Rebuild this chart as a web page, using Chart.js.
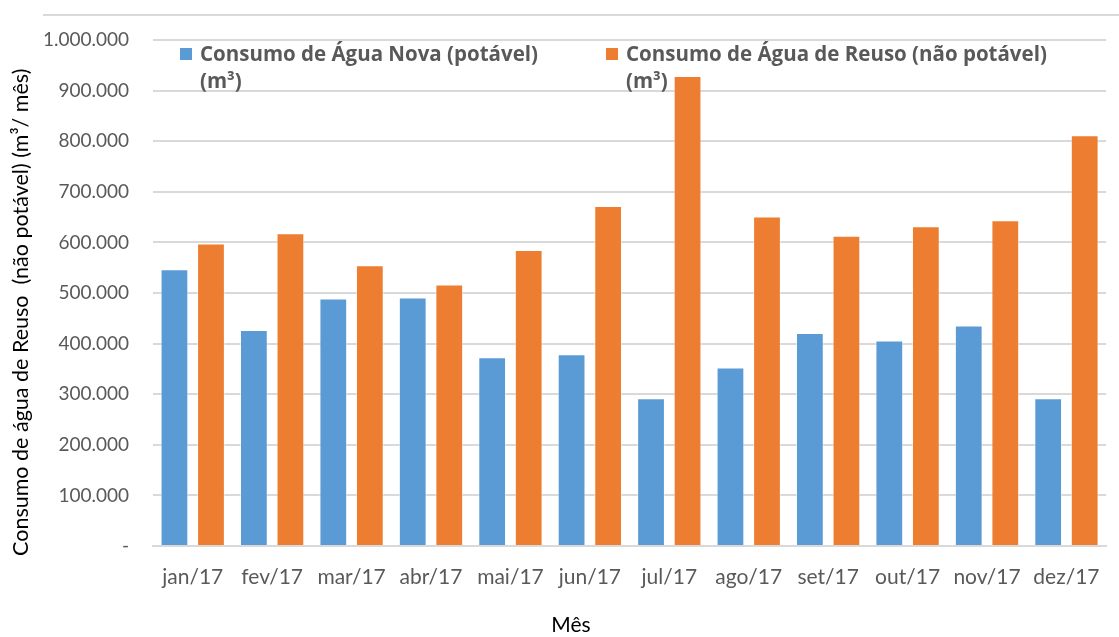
<!DOCTYPE html>
<html lang="pt-BR">
<head>
<meta charset="utf-8">
<title>Consumo de água 2017</title>
<script src="https://cdn.jsdelivr.net/npm/chart.js@4.4.1/dist/chart.umd.min.js"></script>
<style>
    html, body { margin: 0; padding: 0; background: #fff; }
    #wrap { position: relative; width: 1119px; height: 637px; }
    #linha-topo { position: absolute; left: 43px; right: 0; top: 14px; border-top: 2px solid #d9d9d9; }
    .legenda { position: absolute; top: 40px; font-family: "Open Sans", sans-serif; font-weight: bold;
               font-size: 20.5px; line-height: 27px; color: #595959; }
    .legenda span.cor { position: absolute; left: -20px; top: 8px; width: 12px; height: 12px; }
    #titulo-x { position: absolute; left: 571px; top: 611px; transform: translateX(-50%);
                font-family: Lato, sans-serif; font-size: 21px; color: #000; }
</style>
</head>
<body>
<div id="wrap">
    <canvas id="graficoAgua" width="1119" height="637"></canvas>
    <div id="linha-topo"></div>
    <div class="legenda" style="left: 200px;"><span class="cor" style="background:#5B9BD5"></span>Consumo de Água Nova (potável)<br>(m³)</div>
    <div class="legenda" style="left: 626px;"><span class="cor" style="background:#ED7D31"></span>Consumo de Água de Reuso (não potável)<br>(m³)</div>
    <div id="titulo-x">Mês</div>
</div>
<script>
// Dados
const meses = ["jan/17", "fev/17", "mar/17", "abr/17", "mai/17", "jun/17",
               "jul/17", "ago/17", "set/17", "out/17", "nov/17", "dez/17"];
const aguaNova = [547000, 427000, 489000, 491000, 373000, 379000,
                  292000, 353000, 421000, 406000, 436000, 292000];
const aguaReuso = [598000, 618000, 555000, 517000, 585000, 672000,
                   929000, 651000, 613000, 632000, 644000, 812000];
const yMin = 0;
const yMax = 1000000;
const yPasso = 100000;

// Formato brasileiro com ponto nos milhares; zero vira "-"
function formatarValor(v) {
    if (v === 0) return '-';
    return v.toString().replace(/\B(?=(\d{3})+(?!\d))/g, '.');
}

const ctx = document.getElementById('graficoAgua').getContext('2d');
new Chart(ctx, {
    type: 'bar',
    data: {
        labels: meses,
        datasets: [{
            label: 'Consumo de Água Nova (potável) (m³)',
            data: aguaNova,
            backgroundColor: '#5B9BD5',
            borderColor: 'rgba(255,255,255,0.5)',
            borderWidth: 1
        }, {
            label: 'Consumo de Água de Reuso (não potável) (m³)',
            data: aguaReuso,
            backgroundColor: '#ED7D31',
            borderColor: 'rgba(255,255,255,0.5)',
            borderWidth: 1
        }]
    },
    options: {
        responsive: false,
        animation: false,
        categoryPercentage: 0.92,
        barPercentage: 0.76,
        layout: { padding: { top: 40, right: 11, left: 0, bottom: 0 } },
        plugins: {
            legend: { display: false },
            tooltip: { enabled: false }
        },
        scales: {
            x: {
                grid: { display: false, drawTicks: false },
                border: { color: '#d9d9d9', width: 2 },
                ticks: {
                    color: '#595959',
                    padding: 19,
                    font: { family: 'Lato', size: 21 }
                },
                afterFit: function(scale) { scale.height = 91; }
            },
            y: {
                min: yMin,
                max: yMax,
                grid: { color: '#d9d9d9', lineWidth: 2, drawTicks: false },
                border: { display: false },
                ticks: {
                    stepSize: yPasso,
                    color: '#595959',
                    padding: 24,
                    font: { family: 'Lato', size: 19 },
                    callback: function(v) { return formatarValor(v); }
                },
                title: {
                    display: true,
                    // espaços no fim para descer o título como no original
                    text: 'Consumo de água de Reuso  (não potável) (m³/ mês)       ',
                    color: '#000',
                    padding: { top: 8, bottom: 0 },
                    font: { family: 'Lato', size: 21.5 }
                },
                afterFit: function(scale) { scale.width = 153; }
            }
        }
    }
});
</script>
</body>
</html>
